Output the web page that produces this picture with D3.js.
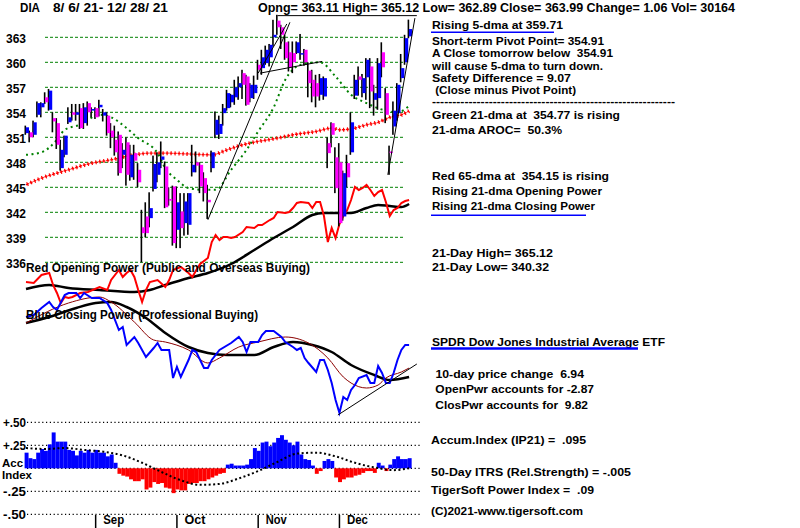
<!DOCTYPE html>
<html><head><meta charset="utf-8">
<script src="https://cdn.jsdelivr.net/npm/d3@7"></script>
<style>
body{margin:0;background:#fff}
svg{display:block;background:#fff}
text{font-family:"Liberation Sans",Arial,sans-serif;font-weight:bold;white-space:pre;fill:#000}
</style>
</head><body>
<svg id="c" width="800" height="528"></svg>
<script>
// ---------------- DATA ----------------
const openP  = [351.5,351.6,351.3,353.7,354.6,355.8,354.3,353.3,352.7,347.3, 348.9,352.8,354.0,353.7,354.5,352.7,355.1,354.2,354.5,354.6,
                353.6,353.6,351.8,350.7,351.3,348.9,350.4,346.2,349.1,347.1, 340.2,341.5,341.3,344.8,346.5,348.3,347.5,343.6,345.1,339.9,
                342.1,340.7,340.5,346.8,348.0,347.7,346.1,343.5,347.3,351.3, 351.4,353.9,354.5,355.2,355.8,357.0,358.7,358.3,355.7,356.3,
                359.7,359.3,359.9,360.6,363.0,365.0,364.2,362.4,361.2,361.1, 361.1,361.0,361.5,359.0,357.9,357.5,356.1,355.9,350.3,352.7,
                348.6,348.0,341.5,347.9,349.2,356.0,358.3,356.3,358.2,359.5, 355.5,355.7,361.2,356.3,349.3,352.3,353.9,358.1,360.0,363.11];
const highP  = [352.4,351.8,353.0,355.3,355.2,356.4,356.8,354.0,353.3,350.7, 351.2,354.6,355.0,355.0,355.0,355.1,355.3,354.6,354.6,355.5,
                354.4,354.0,352.7,352.4,351.7,350.3,351.0,350.1,350.1,347.9, 342.3,343.2,344.4,348.8,349.2,350.5,348.1,345.0,345.2,345.1,
                344.3,344.3,344.3,350.1,349.3,348.0,346.8,345.3,349.4,354.1, 353.6,355.0,356.7,356.2,357.9,358.3,359.1,358.5,357.5,358.4,
                360.3,361.5,362.0,362.2,365.1,365.7,364.5,363.3,362.5,362.5, 362.5,363.4,361.6,360.0,359.1,358.5,358.6,358.3,351.0,352.8,
                349.8,350.3,347.0,348.9,354.0,358.5,359.5,358.6,360.5,360.5, 357.3,360.5,362.4,356.9,350.0,355.3,357.5,361.0,363.3,365.12];
const lowP   = [351.3,350.4,351.0,353.4,353.4,355.0,354.2,351.6,349.6,347.0, 348.6,352.6,353.0,353.0,352.0,352.0,352.4,353.4,353.2,353.5,
                352.9,351.2,349.7,348.8,346.4,347.3,345.2,345.8,345.9,345.0, 336.0,339.0,340.2,344.5,345.6,347.3,342.5,342.8,338.0,337.7,
                337.7,339.2,339.3,346.3,346.8,344.3,343.3,341.2,346.8,350.9, 350.8,352.4,354.2,354.6,354.9,355.5,355.6,354.8,355.2,355.6,
                357.9,358.5,359.7,359.5,361.9,363.3,361.6,360.3,358.9,358.7, 361.0,360.3,359.6,355.8,355.2,354.6,355.4,355.5,347.3,349.8,
                344.3,340.32,341.0,345.0,348.9,355.6,356.0,355.8,355.5,354.5, 353.6,354.3,358.2,352.7,346.5,351.3,353.0,357.6,359.7,362.89];
const closeP = [352.2,351.0,352.8,355.1,355.1,355.2,356.6,352.9,350.1,349.5, 351.2,353.4,353.7,354.0,352.1,354.6,354.0,354.4,353.4,354.9,
                354.0,351.5,351.0,349.2,346.7,349.5,346.5,348.9,348.2,345.6, 339.5,339.5,342.5,347.8,348.0,348.7,342.6,343.4,338.3,343.2,
                340.1,343.3,344.3,347.7,347.6,345.1,344.3,343.2,349.2,353.1, 352.6,354.5,356.3,356.1,357.0,357.5,357.3,354.9,357.3,357.3,
                359.1,360.6,361.5,362.1,363.3,364.2,363.3,360.5,359.4,360.0, 362.4,361.1,360.0,357.5,355.9,355.9,358.1,358.1,349.1,351.3,
                344.9,340.7,346.7,346.2,352.8,357.9,357.9,358.1,360.3,356.5, 356.3,359.9,359.4,353.7,349.1,354.2,357.3,359.3,362.9,363.99];

// 21-dma (green dots) and 65-dma (red +): [day, price]
const ma21 = [[0,348.9],[4,349.2],[8,350.7],[10,351.9],[14,352.5],[19,353.7],[22,353.4],[26,352.1],[29,350.9],[34,349.1],
              [36,347.3],[39,345.9],[42,344.9],[46,344.7],[49,344.7],[53,347.1],[57,349.5],[60,351.7],[64,354.6],[67,357.9],
              [71,359.7],[76,360.0],[80,358.3],[84,356.1],[88,355.1],[93,354.2],[96,354.0],[99,354.77]];
const ma65 = [[0,345.3],[4,346.1],[11,347.1],[17,347.9],[22,348.3],[28,348.9],[32,349.1],[36,349.1],[42,349.0],[48,348.9],
              [52,349.5],[56,350.1],[60,350.5],[65,350.9],[69,351.3],[75,351.7],[79,352.1],[81,351.9],[85,352.1],[88,352.5],
              [91,352.8],[94,353.4],[97,353.7],[99,354.15]];

// trend lines [day, price]
const priceTrends = [
  [[47,341.1],[68.2,364.8]],
  [[60,358.7],[67.4,364.6]],
  [[60.5,358.7],[76.5,360.1]],
  [[93.5,346.5],[100.5,365.3]],
  [[65,365.6],[101,365.6]]
];

// Opening Power (red) and its MA (black) [day, value]
const openPower = [[0,39],[2,38.5],[4,42.5],[6,43.5],[7,37.5],[8,33.5],[9,28.5],[10,31.5],[11,31],[12,31.5],[14,33.5],[16,34],
  [19,36.5],[21,35],[22,40],[24,45],[25,41.5],[26,43.5],[27,45],[28,41.5],[29,35],[30,29],[31,35],[32,39],[34,40],[36,36.5],
  [37,40],[38,45],[40,46.5],[42,43.5],[43,41.5],[44,45],[45,48],[47,51],[48,59],[49,62.5],[50,60],[51,61.5],[52,61.5],[53,61],
  [54,61.5],[56,64],[57,66.5],[59,66],[60,67.5],[61,67.5],[63,70],[64,71],[65,74],[67,73.5],[68,74],[69,76],[70,78.5],[71,79],
  [73,78.5],[74,76],[75,79],[76,79],[77,72],[78,59],[79,66],[80,61],[81,68],[82,72],[83,75],[84,80],[85,86.5],[86,85],[87,86],
  [88,87.5],[89,85],[90,82],[91,84],[92,85],[93,79],[94,72],[95,75],[96,76],[97,78.5],[98,79.5],[99,80]];
const openPowerMA = [[0,35.5],[6,37.5],[11,36],[19,35],[28,34],[32,35],[36,37.5],[42,41],[47,43.5],[53,48],[59,55],[64,61],
  [69,66.5],[74,72.5],[77,73.5],[79,73.5],[84,73.5],[88,76],[91,77.5],[94,77],[97,76.5],[99,78]];

// Closing Power (blue), its 21-dma (dark red), its long MA (black)
const closePower = [[0,21.5],[2,22.5],[4,26],[6,29],[7,26.5],[8,25],[10,32.5],[11,33.5],[13,33.5],[14,31],[15,33.5],[17,31],
  [19,31],[21,28.5],[22,25],[24,15],[25,16.5],[26,7.5],[28,11.5],[29,8.5],[31,1.5],[33,6],[34,8.5],[35,5],[37,5],[38,-9],
  [39,-3.5],[40,-8.5],[42,0],[43,5],[44,4],[46,-4],[47,-4],[48,0],[50,5],[53,8.5],[55,11.5],[56,9],[57,4],[58,9],[60,9],
  [61,12.5],[62,14.5],[64,14.5],[66,11.5],[67,9],[69,6.5],[70,5],[71,6],[72,1],[73,-1.5],[75,-6],[76,0],[77,0],[78,-5],
  [79,-11.5],[80,-20],[81,-26.5],[82,-18.5],[83,-20],[84,-15],[85,-12.5],[86,-9],[88,-7.5],[89,-11.5],[90,-11.5],[91,-3],
  [92,-6.5],[93,-11.5],[94,-11.5],[95,-6.5],[96,0],[97,5],[98,7.5],[99,7.5]];
const closePower21 = [[0,18.5],[11,28.5],[19,31.5],[22,29],[28,19],[33,10],[36,9],[42,5],[47,-1.5],[50,1],[55,6.5],[60,9],
  [67,11.5],[73,8.5],[78,1],[82,-8.5],[84,-11.5],[88,-14],[91,-12.5],[93,-9],[97,-6],[99,-4]];
const closePowerMA = [[0,18.5],[6,21.5],[13,26],[18,28.5],[22,29],[26,26.5],[31,21],[36,13.5],[42,6.5],[47,3.5],[52,2.5],
  [59,2.5],[64,6.5],[69,9],[74,7.5],[79,4],[84,-2.5],[90,-7.5],[94,-10],[99,-8.5]];
const closePowerTrend = [[80.6,-27.5],[101,-2]];

// Accumulation index
const accIndex = [.17,.11,.10,.17,.21,.19,.26,.39,.29,.29, .29,.20,.19,.14,.19,.17,.20,.17,.20,.17,
                  .17,.13,.15,.06,-.06,-.08,-.09,-.12,-.14,-.14, -.12,-.23,-.21,-.15,-.17,-.16,-.21,-.22,-.27,-.23,
                  -.24,-.24,-.17,-.16,-.16,-.14,-.14,-.12,-.10,-.08, -.06,-.05,.04,.05,.03,.03,.03,.04,.10,.22,
                  .19,.28,.29,.24,.28,.33,.36,.31,.28,.25, .29,.15,.10,.09,.03,-.06,-.03,.08,.10,.08,
                  -.10,-.15,-.12,-.10,-.10,-.08,-.07,-.05,-.03,-.03, -.05,.06,.03,-.03,.04,.10,.13,.10,.10,.11];
const accSmooth = [[0,.22],[5,.21],[10,.22],[15,.20],[20,.18],[25,.14],[30,.06],[35,-.04],[40,-.13],[45,-.18],[50,-.17],
                   [55,-.11],[60,-.03],[65,.07],[70,.16],[75,.17],[80,.13],[85,.06],[90,.01],[95,-.02],[99,.00]];

const priceTicks = [363,360,357,354,351,348,345,342,339,336];
const accTicks = [0.5,0.25,-0.25,-0.5];
const accTickLabels = ["+.50","+.25","-.25","-.50"];
const monthDays = [18,39,60,81];
const monthNames = ["Sep","Oct","Nov","Dec"];

const headerTexts = [
  ["DIA", 20, 12, 20],
  ["8/ 6/ 21- 12/ 28/ 21", 53, 12, 115],
  ["Opng= 363.11 High= 365.12 Low= 362.89 Close= 363.99 Change= 1.06 Vol= 30164", 258, 12, 477]
];
const infoLines = [
  ["Rising 5-dma at 359.71", 432, 28.5, 131],
  ["Short-term Pivot Point= 354.91", 432, 45, 172],
  ["A Close tomorrow below  354.91", 432, 57.3, 181],
  ["will cause 5-dma to turn down.", 432, 69.5, 171],
  ["Safety Difference = 9.07", 432, 81.8, 139],
  [" (Close minus Pivot Point)", 432, 93.5, 144],
  ["------------------------------------------------------------", 432, 105, 243],
  ["Green 21-dma at  354.77 is rising", 432, 118.5, 188],
  ["21-dma AROC=  50.3%", 432, 133.5, 130],
  ["Red 65-dma at  354.15 is rising", 432, 179.5, 177],
  ["Rising 21-dma Opening Power", 432, 195, 170],
  ["Rising 21-dma Closing Power", 432, 210, 163],
  ["21-Day High= 365.12", 432, 257.3, 121],
  ["21-Day Low= 340.32", 432, 271, 117],
  ["SPDR Dow Jones Industrial Average ETF", 432, 346, 233],
  [" 10-day price change  6.94", 432, 378.3, 152],
  [" OpenPwr accounts for -2.87", 432, 393.3, 162],
  [" ClosPwr accounts for  9.82", 432, 409.3, 156],
  ["Accum.Index (IP21) =  .095", 431, 444.3, 155],
  ["50-Day ITRS (Rel.Strength) = -.005", 431, 475.7, 200],
  ["TigerSoft Power Index =  .09", 431, 493.7, 163],
  ["(C)2021-www.tigersoft.com", 431, 515, 152]
];
const underlines = [[431,554,32.3,1.5],[431,586,215.3,1.5],[431,638,348.5,2.5]];
const panelLabels = [
  ["Red Opening Power (Public and Overseas Buying)", 26, 272, 284, 12.5],
  ["Blue Closing Power (Professional Buying)", 26, 318.7, 232, 12.5],
  ["Acc", 2, 467, 21, 11],
  ["Index", 2, 478.8, 30, 11]
];

// ---------------- SCALES ----------------
const svg = d3.select("#c");
const x  = d3.scaleLinear().domain([0, 99]).range([26, 409.1]);
const yP = d3.scaleLinear().domain([336, 363]).range([262.3, 37.3]);
const yW = d3.scaleLinear().domain([-30, 100]).range([420, 160]);
const yA = d3.scaleLinear().domain([-0.5, 0.5]).range([514.3, 422.3]);

function addText(g, t, xx, yy, w, size) {
  g.append("text").attr("x", xx).attr("y", yy).attr("font-size", size)
   .attr("textLength", w).attr("lengthAdjust", "spacingAndGlyphs").text(t);
}

// ---------------- PRICE PANEL ----------------
const gp = svg.append("g");
gp.selectAll("line.grid").data(priceTicks).join("line")
  .attr("x1", 45).attr("x2", 405).attr("y1", d => yP(d)).attr("y2", d => yP(d))
  .attr("stroke", "#008000").attr("stroke-width", 1).attr("stroke-dasharray", "3,2");
priceTicks.forEach(v => addText(gp, String(v), 6, yP(v) + 6, 20, 13));

const lineW = d3.line().x(d => x(d[0])).y(d => yW(d[1])).curve(d3.curveLinear);
const lineWs = d3.line().x(d => x(d[0])).y(d => yW(d[1])).curve(d3.curveMonotoneX);
const lineP = d3.line().x(d => x(d[0])).y(d => yP(d[1])).curve(d3.curveMonotoneX);

// Opening power lines
gp.append("path").attr("d", lineWs(openPowerMA)).attr("fill", "none").attr("stroke", "#000").attr("stroke-width", 2.5);
gp.append("path").attr("d", lineW(openPower)).attr("fill", "none").attr("stroke", "#ff0000").attr("stroke-width", 2);

// 65-dma red crosses
gp.append("path").attr("d", lineP(ma65)).attr("fill", "none").attr("stroke", "#ff0000").attr("stroke-width", 1.3)
  .attr("stroke-dasharray", "3.2,0.8");
gp.append("path").attr("d", lineP(ma65)).attr("fill", "none").attr("stroke", "#ff0000").attr("stroke-width", 4)
  .attr("stroke-dasharray", "1.2,2.8").attr("stroke-dashoffset", -1);
// 21-dma green dots
gp.append("path").attr("d", lineP(ma21)).attr("fill", "none").attr("stroke", "#008000").attr("stroke-width", 2)
  .attr("stroke-dasharray", "2,3.5");

// Candles
const idx = d3.range(openP.length);
gp.selectAll("rect.hl").data(idx).join("rect")
  .attr("x", i => x(i) - 1.5).attr("width", 1.6)
  .attr("y", i => yP(highP[i])).attr("height", i => Math.max(1, yP(lowP[i]) - yP(highP[i])))
  .attr("fill", "#000");
gp.selectAll("rect.body").data(idx).join("rect")
  .attr("x", i => x(i) - 0.2).attr("width", 3.2)
  .attr("y", i => yP(Math.max(openP[i], closeP[i])))
  .attr("height", i => Math.max(1.5, Math.abs(yP(openP[i]) - yP(closeP[i]))))
  .attr("fill", i => closeP[i] >= openP[i] ? "#0000ff" : "#ff00ff");

// Trend lines
gp.selectAll("line.trend").data(priceTrends).join("line")
  .attr("x1", d => x(d[0][0])).attr("y1", d => yP(d[0][1]))
  .attr("x2", d => x(d[1][0])).attr("y2", d => yP(d[1][1]))
  .attr("stroke", "#000").attr("stroke-width", 1);

// ---------------- POWER PANEL ----------------
const gw = svg.append("g");
gw.append("path").attr("d", lineWs(closePowerMA)).attr("fill", "none").attr("stroke", "#000").attr("stroke-width", 2.5);
gw.append("path").attr("d", lineWs(closePower21)).attr("fill", "none").attr("stroke", "#8b0000").attr("stroke-width", 1);
gw.append("path").attr("d", lineW(closePower)).attr("fill", "none").attr("stroke", "#0000ff").attr("stroke-width", 2);
gw.append("line")
  .attr("x1", x(closePowerTrend[0][0])).attr("y1", yW(closePowerTrend[0][1]))
  .attr("x2", x(closePowerTrend[1][0])).attr("y2", yW(closePowerTrend[1][1]))
  .attr("stroke", "#000").attr("stroke-width", 1);
panelLabels.forEach(p => addText(gw, p[0], p[1], p[2], p[3], p[4]));

// ---------------- ACC INDEX PANEL ----------------
const ga = svg.append("g");
ga.selectAll("line.ag").data(accTicks.concat([0])).join("line")
  .attr("x1", 27).attr("x2", 420).attr("y1", d => yA(d)).attr("y2", d => yA(d))
  .attr("stroke", "#000").attr("stroke-width", 1.2).attr("stroke-dasharray", "1.2,2.6");
accTicks.forEach((v, k) => addText(ga, accTickLabels[k], 3, yA(v) + 4.5, 23, 12.5));
ga.selectAll("rect.acc").data(idx).join("rect")
  .attr("x", i => x(i) - 1.4).attr("width", 3.95)
  .attr("y", i => accIndex[i] >= 0 ? yA(accIndex[i]) : yA(0))
  .attr("height", i => Math.abs(yA(accIndex[i]) - yA(0)))
  .attr("fill", i => accIndex[i] >= 0 ? "#0000ff" : "#ff0000");
ga.append("path").attr("d", d3.line().x(d => x(d[0])).y(d => yA(d[1])).curve(d3.curveMonotoneX)(accSmooth))
  .attr("fill", "none").attr("stroke", "#000").attr("stroke-width", 2).attr("stroke-dasharray", "2,2.5");

// month ticks
ga.selectAll("line.mt").data(monthDays).join("line")
  .attr("x1", d => x(d)).attr("x2", d => x(d)).attr("y1", 515).attr("y2", 528)
  .attr("stroke", "#000").attr("stroke-width", 1.5);
monthDays.forEach((d, k) => addText(ga, monthNames[k], x(d) + 7.5, 524.3, 21, 12.5));

// ---------------- TEXT ----------------
const gt = svg.append("g");
headerTexts.forEach(t => addText(gt, t[0], t[1], t[2], t[3], 12.5));
infoLines.forEach(t => addText(gt, t[0], t[1], t[2], t[3], 11.5));
gt.selectAll("line.ul").data(underlines).join("line")
  .attr("x1", d => d[0]).attr("x2", d => d[1]).attr("y1", d => d[2]).attr("y2", d => d[2])
  .attr("stroke", "#0000ff").attr("stroke-width", d => d[3]);
</script>
</body></html>
